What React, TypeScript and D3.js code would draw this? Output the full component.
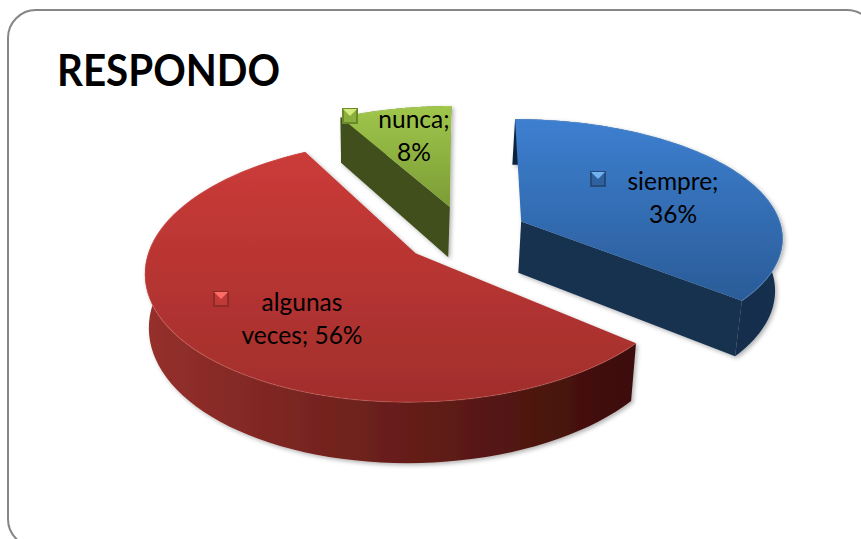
import React from "react";
import * as d3 from "d3";

const categories = ["siempre", "algunas veces", "nunca"];
const values = [36, 56, 8];
const labelLines = [["siempre;", "36%"], ["algunas", "veces; 56%"], ["nunca;", "8%"]];
const titleText = "RESPONDO";

const CX = 465, CY = 236, RX = 262, RY = 124, P = 0.13, EXPLODE = 0.24, DEPTH = 54;
const VANISH_X = 364, SHRINK = 0.018;
const sliceVScale = [0.95, 1, 0.97];
const sliceNudgeY = [-2, -2, -1];
const topColors = [["#3d7fd0", "#2a5c98"], ["#cb3b38", "#a12e2c"], ["#a0c64c", "#7b9c35"]];
const faceColors = ["#173050", "#6e1f1c", "#3f4f1c"];
const rimColors = ["#7fb0e8", "#e8807a", "#c8e080"];
const wallColors = [["#10233c", "#14304f"], ["#96302c", "#3b0d09"], ["#3f4f1c", "#3f4f1c"]];
const visibleFaces = [[1], [], [0]];
const markerColors = [["#70b2f2", "#30619f", "#244b7c"], ["#ff6c68", "#c03a38", "#8f2a28"], ["#d2ea7c", "#8cae3c", "#6a8a2a"]];
const labelPos = [[673, 190], [302, 311], [414, 128]];
const markerPos = [[598, 179], [221, 299], [350, 116]];

function project(u: number, v: number, z = 0): [number, number] {
  const s = 1 / (1 - P * v);
  const x = CX + RX * u * s;
  return [x - z * SHRINK * (x - VANISH_X), CY + RY * v * s + DEPTH * z * s * 0.96];
}

const pieGen = d3.pie<number>().sort(null).startAngle(0).endAngle(2 * Math.PI);
const arcs = pieGen(values);

function slicePts(i: number) {
  const a = arcs[i];
  const mid = (a.startAngle + a.endAngle) / 2;
  const ox = Math.sin(mid) * EXPLODE, oy = -Math.cos(mid) * EXPLODE;
  const angles = d3.range(0, 81).map((k) => a.startAngle + ((a.endAngle - a.startAngle) * k) / 80);
  const at = (u: number, v: number, z: number): [number, number] => {
    const [x, y] = project(u, v, z);
    return [x, y + sliceNudgeY[i]];
  };
  const rim = (z: number) => angles.map((t) => at(ox + Math.sin(t), oy - Math.cos(t) * sliceVScale[i], z));
  return { apex: (z: number) => at(ox, oy, z), rim };
}

const line = d3.line();

function Slice({ i }: { i: number }) {
  const p = slicePts(i);
  const topRim = p.rim(0), botRim = p.rim(1);
  const top = line([p.apex(0), ...topRim])! + "Z";
  const wall = line([...topRim, ...botRim.slice().reverse()])! + "Z";
  const face = (end: number) => {
    const idx = end === 0 ? 0 : 80;
    return line([p.apex(0), topRim[idx], botRim[idx], p.apex(1)])! + "Z";
  };
  const xs = d3.extent(topRim, (d) => d[0]) as [number, number];
  const ys = d3.extent([...topRim, p.apex(0)], (d) => d[1]) as [number, number];
  return (
    <g filter="url(#shadow)">
      <defs>
        <linearGradient id={`top${i}`} gradientUnits="userSpaceOnUse" x1="0" x2="0" y1={ys[0]} y2={ys[1]}>
          <stop offset="0" stopColor={topColors[i][0]} />
          <stop offset="1" stopColor={topColors[i][1]} />
        </linearGradient>
        <linearGradient id={`wall${i}`} gradientUnits="userSpaceOnUse" x1={xs[0]} x2={xs[1]} y1="0" y2="0">
          <stop offset="0" stopColor={wallColors[i][0]} />
          <stop offset="1" stopColor={wallColors[i][1]} />
        </linearGradient>
      </defs>
      <path d={wall} fill={`url(#wall${i})`} />
      {visibleFaces[i].map((f) => <path key={f} d={face(f)} fill={faceColors[i]} />)}
      <path d={top} fill={`url(#top${i})`} />
      <path d={line(topRim)!} fill="none" stroke={rimColors[i]} strokeWidth={1.2} strokeOpacity={0.3} />
    </g>
  );
}

function Marker({ i }: { i: number }) {
  const [x, y] = markerPos[i];
  const h = 8;
  return (
    <g>
      <rect x={x - h} y={y - h} width={2 * h} height={2 * h} fill={markerColors[i][2]} />
      <rect x={x - h + 2} y={y - h + 2} width={2 * h - 4} height={2 * h - 4} fill={markerColors[i][1]} />
      <path d={line([[x - h + 1, y - h + 1], [x + h - 1, y - h + 1], [x, y]])!} fill={markerColors[i][0]} />
    </g>
  );
}

export default function App() {
  return (
    <svg width={861} height={539} style={{ position: "fixed", left: 0, top: 0, background: "#fff" }}
      fontFamily="Lato, 'Open Sans', sans-serif">
      <defs>
        <filter id="shadow" x="-10%" y="-10%" width="120%" height="120%">
          <feDropShadow dx="2" dy="2" stdDeviation="2" floodColor="#000" floodOpacity="0.3" />
        </filter>
      </defs>
      <rect x={8} y={10} width={867} height={537} rx={28} ry={28} fill="#fff" stroke="#868686" strokeWidth={2} />
      <text x={57} y={86} fontSize={43} fontWeight={700} fill="#000" textLength={223} lengthAdjust="spacingAndGlyphs">{titleText}</text>
      {[2, 1, 0].map((i) => <Slice key={categories[i]} i={i} />)}
      {categories.map((c, i) => <Marker key={c} i={i} />)}
      {labelLines.map((ls, i) => (
        <text key={i} textAnchor="middle" fontSize={24.5} fill="#000">
          {ls.map((t, k) => <tspan key={k} x={labelPos[i][0]} y={labelPos[i][1] + k * 33}>{t}</tspan>)}
        </text>
      ))}
    </svg>
  );
}
